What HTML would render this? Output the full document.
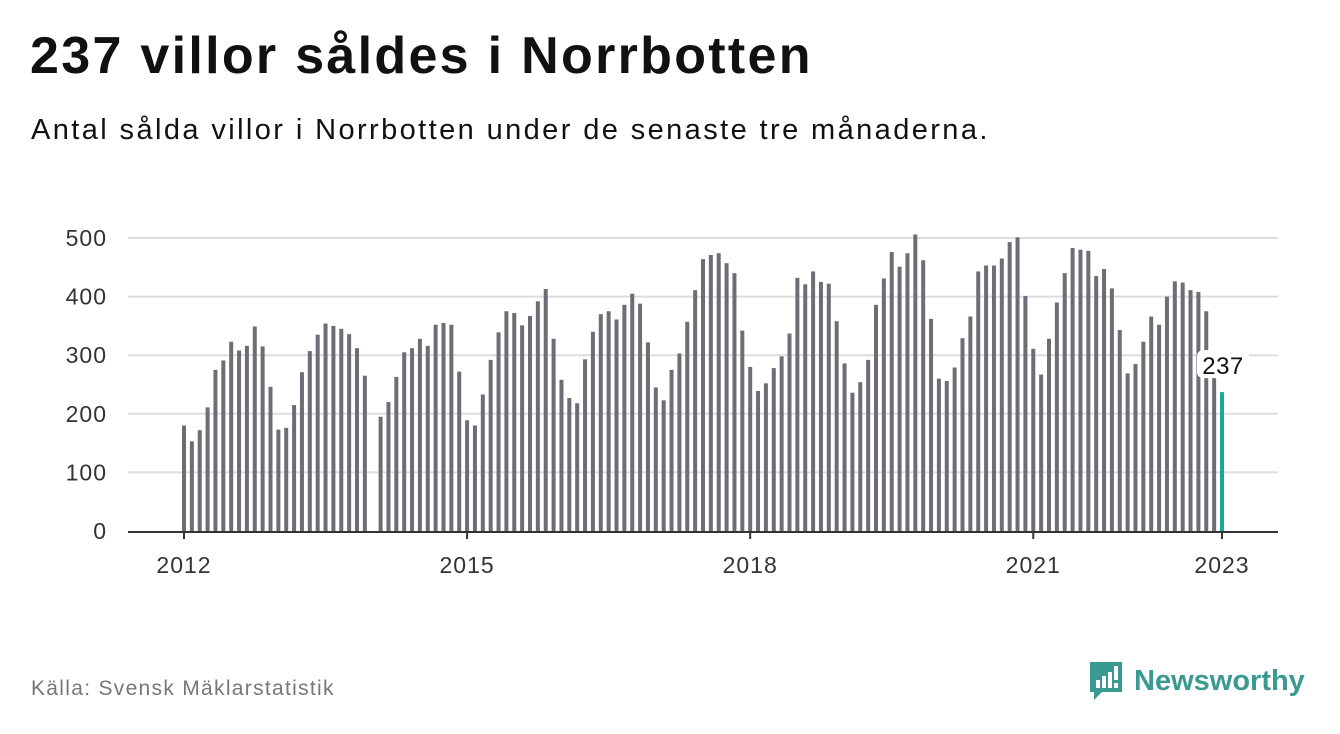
<!DOCTYPE html>
<html><head><meta charset="utf-8"><style>
body{margin:0;background:#fff;font-family:"Liberation Sans","DejaVu Sans",sans-serif;}
#wrap{position:relative;width:1340px;height:734px;overflow:hidden;}
h1{position:absolute;left:30px;top:26px;margin:0;font-size:52px;font-weight:bold;color:#111;letter-spacing:2.3px;}
.sub{position:absolute;left:31px;top:114px;font-size:29px;color:#111;letter-spacing:2.4px;}
.src{position:absolute;left:31px;top:677px;font-size:21px;color:#777;letter-spacing:1.3px;}
.logo{position:absolute;left:1088px;top:660px;display:flex;align-items:center;}
.logo span{font-size:29px;font-weight:bold;color:#3a9a91;margin-left:10px;}
</style></head><body>
<div id="wrap">
<h1>237 villor såldes i Norrbotten</h1>
<div class="sub">Antal sålda villor i Norrbotten under de senaste tre månaderna.</div>
<svg id="chart" width="1340" height="734" style="position:absolute;left:0;top:0"></svg>
<div class="src">Källa: Svensk Mäklarstatistik</div>
<div class="logo">
<svg width="36" height="42" viewBox="0 0 36 42"><path d="M2 2h32v30H14l-8 8v-8H2z" fill="#3a9a91"/><rect x="8" y="20" width="4" height="8" fill="#fff"/><rect x="14" y="16" width="4" height="12" fill="#fff"/><rect x="20" y="12" width="4" height="16" fill="#fff"/><rect x="26" y="6" width="4" height="14" fill="#fff"/><rect x="26" y="23" width="4" height="5" fill="#fff"/></svg>
<span>Newsworthy</span></div>
</div>
<script>
const values = [
180,153,172,211,275,291,323,308,316,349,315,246,
173,176,215,271,307,335,354,350,345,336,312,265,
null,195,220,263,305,312,328,316,352,355,352,272,
189,180,233,292,339,375,372,351,367,392,413,328,
258,227,218,293,340,370,375,361,386,405,388,322,
245,223,275,303,357,411,464,471,474,457,440,342,
280,239,252,278,298,337,432,421,443,425,422,358,
286,236,254,292,386,431,476,451,474,506,462,362,
260,256,279,329,366,443,453,453,465,493,501,401,
311,267,328,390,440,483,480,478,435,447,414,343,
269,285,323,366,352,400,426,424,411,408,375,265,
237];
const yTicks = [0,100,200,300,400,500];
const xTickLabels = ["2012","2015","2018","2021","2023"];
const xTickMonths = [0,36,72,108,132];

const NS="http://www.w3.org/2000/svg";
const svg=document.getElementById('chart');
const x0=184, dx=(1222-184)/132, yBase=531, yScale=(531-238)/500;
const xs=i=>x0+i*dx, ys=v=>yBase-v*yScale;
function el(t,a){const e=document.createElementNS(NS,t);for(const k in a)e.setAttribute(k,a[k]);svg.appendChild(e);return e;}
yTicks.forEach(t=>{
  if(t>0){const g=el('line',{x1:128,x2:1278,y1:ys(t),y2:ys(t),stroke:'#ddd','stroke-width':2});
  
  }
  const l=el('text',{x:107,y:ys(t)+8,'text-anchor':'end','font-size':23,fill:'#333','letter-spacing':1});
  l.textContent=t;
  
  
});
values.forEach((v,i)=>{
  if(v==null)return;
  const last=i===values.length-1;
  const b=el('rect',{x:xs(i)-2,y:ys(v),width:4,height:v*yScale,fill:last?'#1aa89a':'#6e6d75'});
  
  
});
const ax=el('line',{x1:128,x2:1278,y1:yBase+1,y2:yBase+1,stroke:'#333','stroke-width':2});


xTickMonths.forEach((m,i)=>{
  const tk=el('line',{x1:xs(m),x2:xs(m),y1:yBase,y2:yBase+8,stroke:'#333','stroke-width':2});
  
  
  const l=el('text',{x:xs(m),y:573,'text-anchor':'middle','font-size':23,fill:'#333','letter-spacing':1});
  l.textContent=xTickLabels[i];
  
  
});
const li=values.length-1;
const bg=el('rect',{x:xs(li)-25,y:ys(values[li])-42,width:52,height:28,rx:6,fill:'#fff'});


const vl=el('text',{x:xs(li)+1,y:ys(values[li])-18,'text-anchor':'middle','font-size':24,fill:'#111','letter-spacing':0.5});
vl.textContent=values[li];


</script>
</body></html>
